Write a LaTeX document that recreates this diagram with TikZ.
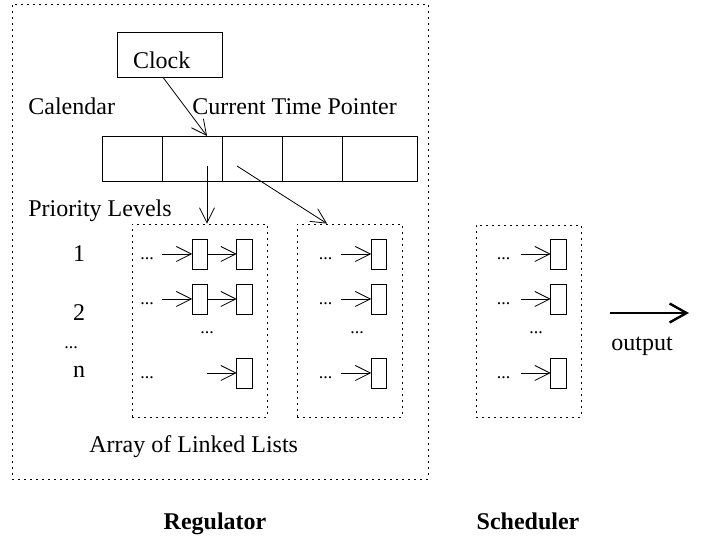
\documentclass[tikz,border=0pt]{standalone}
\usepackage{fontspec}
\setmainfont{Liberation Serif}
\usetikzlibrary{arrows.meta}
\newcommand{\etcdots}{{\fontsize{18}{20}\selectfont ...}}

\begin{document}
\begin{tikzpicture}[
		x=1pt, y=-1pt,
		line width=0.8pt,
		font=\fontsize{24}{28}\selectfont,
		frame/.style={draw, dash pattern=on 1.8pt off 4.2pt, inner sep=0pt},
		cell/.style={draw, minimum width=60pt, minimum height=45pt, inner sep=0pt, outer sep=0pt},
		item/.style={draw, minimum width=15.5pt, minimum height=30pt, inner sep=0pt, outer sep=0pt},
		ptr/.style={-{Straight Barb[length=15pt, width=15pt]}},
		lbl/.style={anchor=base west, inner sep=0pt},
		dots/.style={anchor=base, inner sep=0pt}
	]
	\useasboundingbox (0,0) rectangle (716,537);

	\node[frame, minimum width=416pt, minimum height=475pt] (regulator) at (220,241.5) {};
	\node[draw, text width=73pt, inner xsep=16pt, inner ysep=0pt, text height=37pt, text depth=8pt] (clock) at (169.5,54.5) {Clock};

	\node[lbl] (calendar) at (28,115) {Calendar};
	\node[lbl] (pointer) at (192,115) {Current Time Pointer};
	\foreach \i/\x in {1/132,2/192,3/252,4/312}
		\node[cell] (cell\i) at (\x,158.5) {};
	\node[cell, minimum width=75pt] (cell5) at (379.5,158.5) {};
	\coordinate (now) at (207,136);

	\node[lbl] (levels) at (28,217) {Priority Levels};
	\node[dots] (lev1) at (79,262) {1};
	\node[dots] (lev2) at (79,321) {2};
	\node[dots] (levdots) at (71,349) {\etcdots};
	\node[dots] (levn) at (79,378) {n};

	\node[frame, minimum width=135pt, minimum height=193pt] (list1) at (199.5,320.5) {};
	\node[frame, minimum width=105pt, minimum height=193pt] (list2) at (349.5,320.5) {};
	\node[frame, minimum width=105pt, minimum height=192pt] (sched) at (528.5,321) {};

	\foreach \r/\y in {1/254,2/299} {
		\node[item] (a\r) at (200,\y) {};
		\node[item] (b\r) at (244.5,\y) {};
		\node[dots] at (147,\y+6) {\etcdots};
		\draw[ptr] ([xshift=-30pt]a\r.west) -- (a\r);
		\draw[ptr] (a\r) -- (b\r);
	}
	\foreach \r/\y in {1/254,2/299,n/373} {
		\node[item] (c\r) at (379,\y) {};
		\node[dots] at (325.5,\y+6) {\etcdots};
		\draw[ptr] ([xshift=-30pt]c\r.west) -- (c\r);
		\node[item] (s\r) at (558.5,\y) {};
		\node[dots] at (503.5,\y+6) {\etcdots};
		\draw[ptr] ([xshift=-30pt]s\r.west) -- (s\r);
	}
	\node[item] (bn) at (244.5,373) {};
	\node[dots] at (147,379) {\etcdots};
	\draw[ptr] ([xshift=-30pt]bn.west) -- (bn);
	\node[dots] at (207,334) {\etcdots};
	\node[dots] at (357,334) {\etcdots};
	\node[dots] at (536,334) {\etcdots};

	\draw[ptr] ([xshift=-6.5pt]clock.south) -- (now);
	\draw[ptr] ([yshift=-30pt]now) -- (now |- list1.north);
	\draw[ptr] ([shift={(30pt,-30pt)}]now) -- ([xshift=-22.5pt]list2.north);

	\node[lbl] (array) at (89,453) {Array of Linked Lists};
	\node[dots] at (215,530) {\textbf{Regulator}};
	\node[dots] at (528,530) {\textbf{Scheduler}};

	\coordinate (out) at (610,313);
	\draw[-{Straight Barb[length=17pt, width=19pt]}, line width=2.4pt] (out) -- ++(79,0);
	\node[lbl] at (611,351) {output};
\end{tikzpicture}
\end{document}
